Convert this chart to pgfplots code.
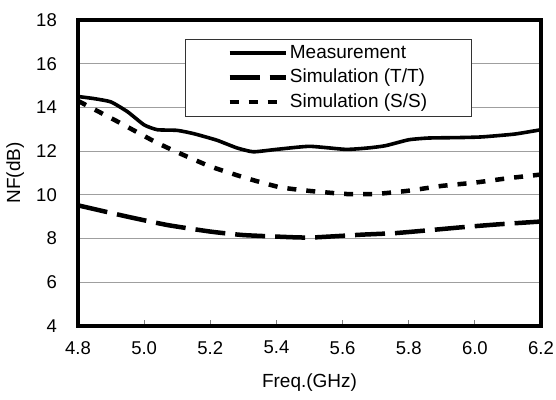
\documentclass[border=0pt]{standalone}
\usepackage{pgfplots}
\pgfplotsset{compat=1.18}
\usepackage{fontspec}
\setmainfont{Liberation Sans}
\begin{document}
\fontsize{18bp}{21bp}\selectfont
\begin{tikzpicture}
\begin{axis}[
  name=ax,
  scale only axis,
  width=463bp, height=306bp,
  xmin=4.8, xmax=6.2, ymin=4, ymax=18,
  xtick={4.8,5.0,5.2,5.4,5.6,5.8,6.0,6.2},
  ytick={4,6,...,18},
  /pgf/number format/assume math mode=true,
  x tick label style={/pgf/number format/fixed, /pgf/number format/fixed zerofill, /pgf/number format/precision=1, yshift=-9bp},
  y tick label style={xshift=-15bp},
  tick label style={font=\fontsize{18.5bp}{21bp}\selectfont},
  label style={font=\fontsize{19bp}{22bp}\selectfont},
  xtick pos=bottom, tick align=inside,
  major tick length=6bp,
  ytick style={draw=none},
  xtick style={line width=0.8pt},
  axis line style={line width=4.4bp},
  ymajorgrids,
  grid style={gray!75, line width=1bp},
  xlabel={Freq.(GHz)}, ylabel={NF(dB)},
  xlabel style={yshift=-7bp},
  ylabel style={yshift=0bp},
  legend cell align=left,
  legend image code/.code={\draw[#1] (0bp,0bp) -- (56bp,0bp);},
  legend style={at={(0.2311,0.9379)}, anchor=north west, draw=black!80, line width=0.8bp,
    inner xsep=42bp, inner ysep=4bp, row sep=4bp,
    font=\fontsize{19bp}{22bp}\selectfont},
]
\addplot[black, line width=3.6bp, smooth, tension=0.3] coordinates {
(4.80,14.5) (4.85,14.4) (4.90,14.25) (4.95,13.8) (5.00,13.2) (5.04,12.98) (5.10,12.95) (5.15,12.8) (5.22,12.5) (5.28,12.15) (5.33,11.97) (5.40,12.08) (5.50,12.22) (5.61,12.08) (5.68,12.15) (5.73,12.25) (5.80,12.52) (5.86,12.6) (5.95,12.62) (6.02,12.65) (6.12,12.78) (6.20,12.98)
};
\addlegendentry{Measurement}
\addplot[black, line width=4.5bp, dash pattern=on 30bp off 10bp, smooth, tension=0.3] coordinates {
(4.80,9.52) (4.95,9.0) (5.07,8.62) (5.20,8.32) (5.30,8.16) (5.45,8.06) (5.51,8.05) (5.66,8.18) (5.76,8.25) (5.86,8.38) (5.97,8.53) (6.07,8.65) (6.20,8.78)
};
\addlegendentry{Simulation (T/T)}
\addplot[black, line width=4.5bp, dash pattern=on 9bp off 10bp, smooth, tension=0.3] coordinates {
(4.80,14.3) (4.92,13.35) (5.03,12.45) (5.10,11.95) (5.20,11.3) (5.31,10.76) (5.41,10.35) (5.50,10.18) (5.61,10.04) (5.70,10.04) (5.80,10.19) (5.90,10.41) (6.00,10.56) (6.10,10.76) (6.20,10.93)
};
\addlegendentry{Simulation (S/S)}
\end{axis}
\pgfresetboundingbox
\path[use as bounding box] ([xshift=-78bp,yshift=-74bp]ax.south west) rectangle ([xshift=15bp,yshift=20bp]ax.north east);
\end{tikzpicture}
\end{document}
